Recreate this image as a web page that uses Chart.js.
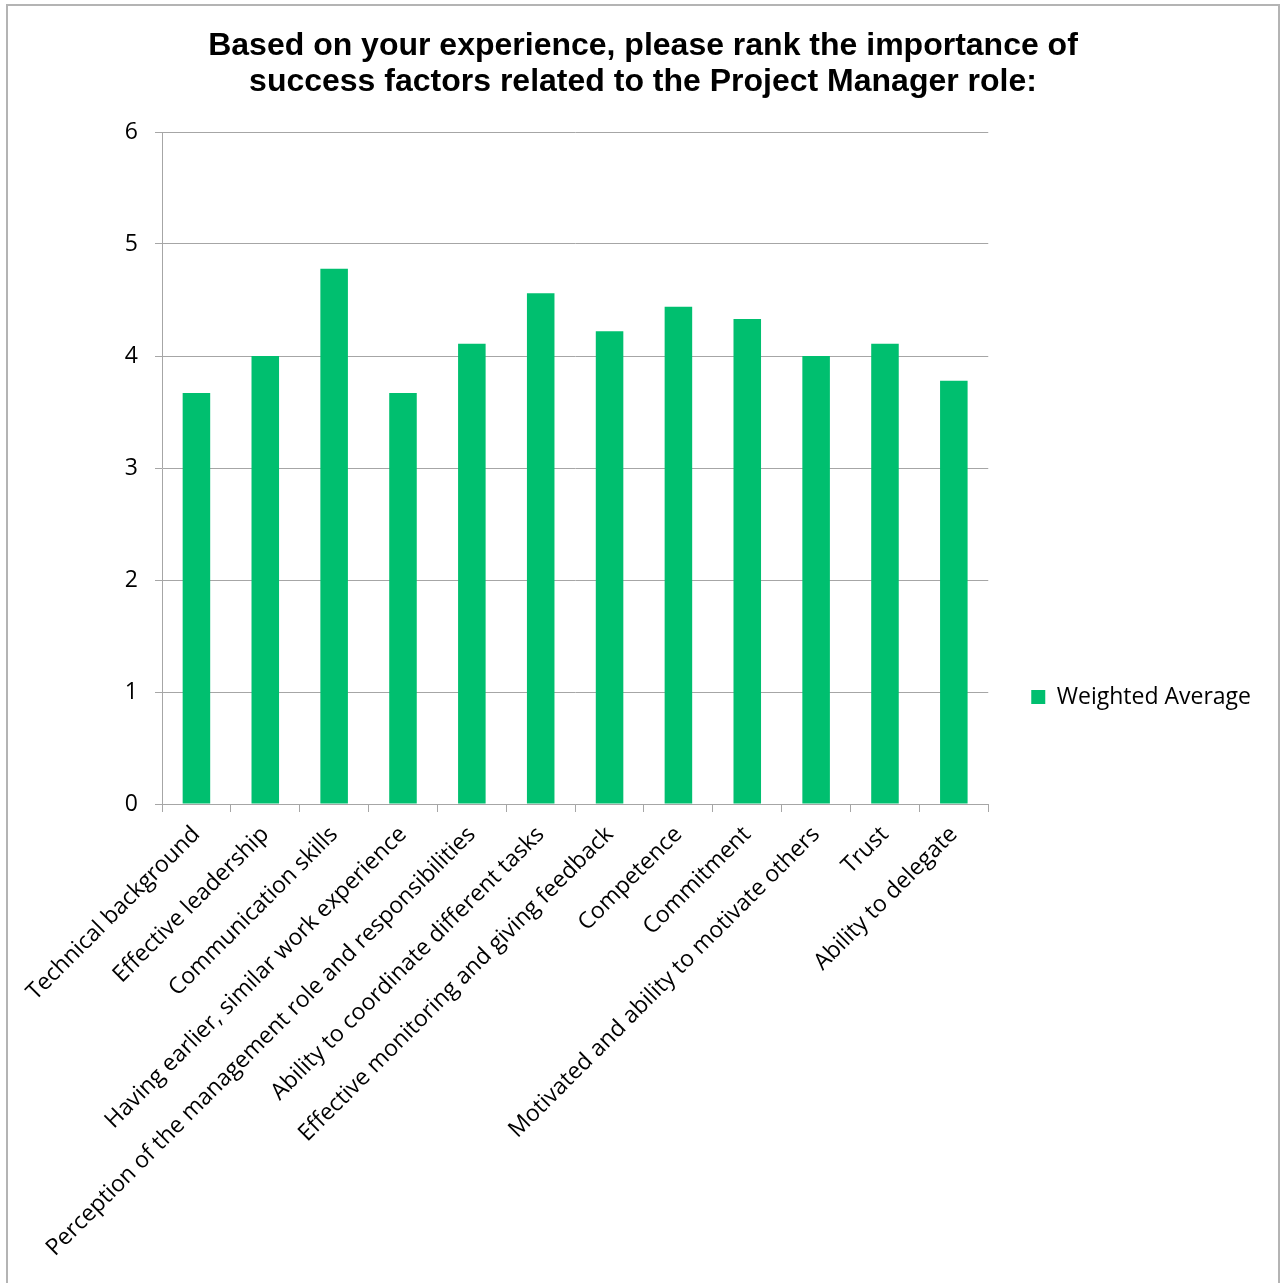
<!DOCTYPE html>
<html>
<head>
<meta charset="utf-8">
<script src="https://cdn.jsdelivr.net/npm/chart.js@4"></script>
<style>
  html, body { margin: 0; padding: 0; background: #fff; }
  #wrap { width: 1286px; height: 1283px; position: relative; }
</style>
</head>
<body>
<div id="wrap"><canvas id="chart" width="1286" height="1283"></canvas></div>
<script>
// chart data
const categories = [
    "Technical background",
    "Effective leadership",
    "Communication skills",
    "Having earlier, similar work experience",
    "Perception of the management role and responsibilities",
    "Ability to coordinate different tasks",
    "Effective monitoring and giving feedback",
    "Competence",
    "Commitment",
    "Motivated and ability to motivate others",
    "Trust",
    "Ability to delegate"
];
const weightedAverage = [3.67, 4.0, 4.78, 3.67, 4.11, 4.56, 4.22, 4.44, 4.33, 4.0, 4.11, 3.78];
const seriesName = "Weighted Average";
const titleLines = [
    "Based on your experience, please rank the importance of",
    "success factors related to the Project Manager role:"
];

const barColor = "#00BF6F";
const axisGray = "#a6a6a6";
const labelFont = "'Open Sans', Lato, sans-serif";

// light grey frame around the whole chart, like the exported office chart
const framePlugin = {
    id: "frame",
    beforeDraw(chart) {
        const ctx = chart.ctx;
        ctx.save();
        ctx.fillStyle = "#fff";
        ctx.fillRect(0, 0, chart.width, chart.height);
        ctx.strokeStyle = "#b4b4b4";
        ctx.lineWidth = 2;
        ctx.strokeRect(7, 5, 1272, chart.height + 10);
        ctx.restore();
    }
};

const ctx = document.getElementById("chart");

new Chart(ctx, {
    type: "bar",
    data: {
        labels: categories,
        datasets: [
            {
                label: seriesName,
                data: weightedAverage,
                backgroundColor: barColor,
                borderWidth: 0,
                barPercentage: 0.4,
                categoryPercentage: 1.0
            }
        ]
    },
    options: {
        responsive: false,
        animation: false,
        layout: {
            padding: { top: 0, left: 25, right: 25, bottom: 0 }
        },
        plugins: {
            title: {
                display: true,
                text: titleLines,
                color: "#000",
                font: { family: "'Liberation Sans', Arial, sans-serif", size: 32, weight: "bold", lineHeight: 1.125 },
                padding: { top: 28, bottom: 32 }
            },
            legend: {
                position: "right",
                title: { display: true, text: " ", font: { size: 1 }, padding: { top: 110, bottom: 0 } },
                labels: {
                    color: "#000",
                    font: { family: labelFont, size: 23 },
                    boxWidth: 14,
                    boxHeight: 14,
                    padding: 43
                }
            },
            tooltip: { enabled: false }
        },
        scales: {
            x: {
                grid: {
                    offset: true,
                    drawOnChartArea: false,
                    color: axisGray,
                    tickLength: 8
                },
                border: { color: axisGray },
                ticks: {
                    color: "#000",
                    font: { family: labelFont, size: 23 },
                    minRotation: 45,
                    maxRotation: 45,
                    autoSkip: false,
                    padding: 9
                },
                afterFit(scale) { scale.height = 1283 - 804; }
            },
            y: {
                min: 0,
                max: 6,
                ticks: {
                    stepSize: 1,
                    color: "#000",
                    font: { family: labelFont, size: 23 },
                    padding: 17
                },
                grid: { color: axisGray, tickLength: 7 },
                border: { color: axisGray },
                afterFit(scale) { scale.width = 162 - 25; }
            }
        }
    },
    plugins: [framePlugin]
});
</script>
</body>
</html>
